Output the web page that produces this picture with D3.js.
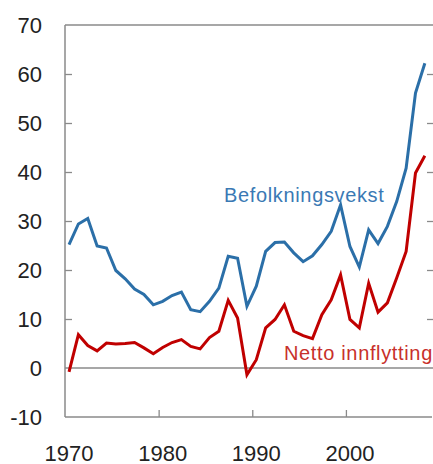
<!DOCTYPE html>
<html>
<head>
<meta charset="utf-8">
<script src="https://cdn.jsdelivr.net/npm/d3@7"></script>
<style>
  html, body { margin: 0; padding: 0; background: #fff; }
  svg { display: block; }
  text { font-family: "Liberation Sans", Arial, sans-serif; }
</style>
</head>
<body>
<svg id="chart" width="433" height="464"></svg>
<script>
const years = d3.range(1970, 2009);
const befolkningsvekst = [25.2, 29.4, 30.5, 24.9, 24.5, 19.9, 18.2, 16.1, 15.0, 12.9,
  13.6, 14.8, 15.5, 11.9, 11.5, 13.6, 16.3, 22.8, 22.4, 12.6,
  16.7, 23.8, 25.6, 25.7, 23.5, 21.7, 22.9, 25.2, 27.9, 33.3,
  24.8, 20.6, 28.2, 25.4, 28.9, 34.0, 40.8, 56.1, 62.2];
const nettoInnflytting = [-0.8, 6.8, 4.6, 3.5, 5.1, 4.9, 5.0, 5.2, 4.1, 2.9,
  4.2, 5.2, 5.8, 4.4, 3.9, 6.2, 7.5, 13.8, 10.2, -1.4,
  1.7, 8.2, 9.9, 12.9, 7.5, 6.6, 6.0, 10.9, 13.9, 19.0,
  9.9, 8.2, 17.3, 11.4, 13.3, 18.4, 23.8, 39.8, 43.3];
const yTicks = [-10, 0, 10, 20, 30, 40, 50, 60, 70];
const xTicks = [1970, 1980, 1990, 2000];

const svg = d3.select("#chart");
const mLeft = 65, mRight = 433, mTop = 25, mBottom = 417;
const x = d3.scaleLinear().domain([1970, 2009.3]).range([mLeft, mRight]);
const y = d3.scaleLinear().domain([-10, 70]).range([mBottom, mTop]);
const off = 0.43; // data points centred in each year
const axisColor = "#8a8a8a";
const innerTicks = yTicks.filter(t => t !== -10 && t !== 70 && t !== 0);

// top border
svg.append("line").attr("x1", mLeft).attr("x2", mRight).attr("y1", mTop).attr("y2", mTop)
  .attr("stroke", axisColor).attr("stroke-width", 1.3);

// left axis (ticks inward)
const yAxisL = svg.append("g").attr("transform", `translate(${mLeft},0)`)
  .call(d3.axisRight(y).tickValues(innerTicks).tickSize(7).tickFormat(""));
yAxisL.select(".domain").remove();
yAxisL.selectAll("line").attr("stroke", axisColor).attr("stroke-width", 1.3);
svg.append("line").attr("x1", mLeft).attr("x2", mLeft).attr("y1", mTop).attr("y2", mBottom)
  .attr("stroke", axisColor).attr("stroke-width", 1.5);

// right axis ticks (axis line just off canvas)
const yAxisR = svg.append("g").attr("transform", `translate(${mRight + 1},0)`)
  .call(d3.axisLeft(y).tickValues(innerTicks).tickSize(7).tickFormat(""));
yAxisR.select(".domain").remove();
yAxisR.selectAll("line").attr("stroke", axisColor).attr("stroke-width", 1.3);

// y labels
svg.append("g").selectAll("text").data(yTicks).join("text")
  .attr("x", 42).attr("y", d => y(d)).attr("dy", "0.36em")
  .attr("text-anchor", "end").attr("font-size", 22).attr("fill", "#222")
  .text(d => d);

// bottom axis
const xAxis = svg.append("g").attr("transform", `translate(0,${mBottom})`)
  .call(d3.axisTop(x).tickValues(xTicks.filter(t => t !== 1970)).tickSize(7).tickFormat(""));
xAxis.select(".domain").remove();
xAxis.selectAll("line").attr("stroke", axisColor).attr("stroke-width", 1.3);
svg.append("line").attr("x1", mLeft).attr("x2", mRight - 1).attr("y1", mBottom).attr("y2", mBottom)
  .attr("stroke", axisColor).attr("stroke-width", 1.5);

svg.append("g").selectAll("text").data(xTicks).join("text")
  .attr("x", d => x(d + off)).attr("y", 460.5)
  .attr("text-anchor", "middle").attr("font-size", 22).attr("fill", "#222")
  .text(d => d);

// zero line
svg.append("line").attr("x1", mLeft).attr("x2", mRight).attr("y1", y(0)).attr("y2", y(0))
  .attr("stroke", axisColor).attr("stroke-width", 1.3);

const line = d3.line().x((d, i) => x(years[i] + off)).y(d => y(d));

svg.append("path").datum(befolkningsvekst).attr("d", line)
  .attr("fill", "none").attr("stroke", "#2b6fa8").attr("stroke-width", 3)
  .attr("stroke-linejoin", "miter");
svg.append("path").datum(nettoInnflytting).attr("d", line)
  .attr("fill", "none").attr("stroke", "#c00000").attr("stroke-width", 3)
  .attr("stroke-linejoin", "miter");

svg.append("text").attr("x", 224).attr("y", 201.5).attr("font-size", 20)
  .attr("letter-spacing", 0.65)
  .attr("fill", "#3a79b4").text("Befolkningsvekst");
svg.append("text").attr("x", 284).attr("y", 359.5).attr("font-size", 20)
  .attr("letter-spacing", 0.65)
  .attr("fill", "#c8302b").text("Netto innflytting");
</script>
</body>
</html>
